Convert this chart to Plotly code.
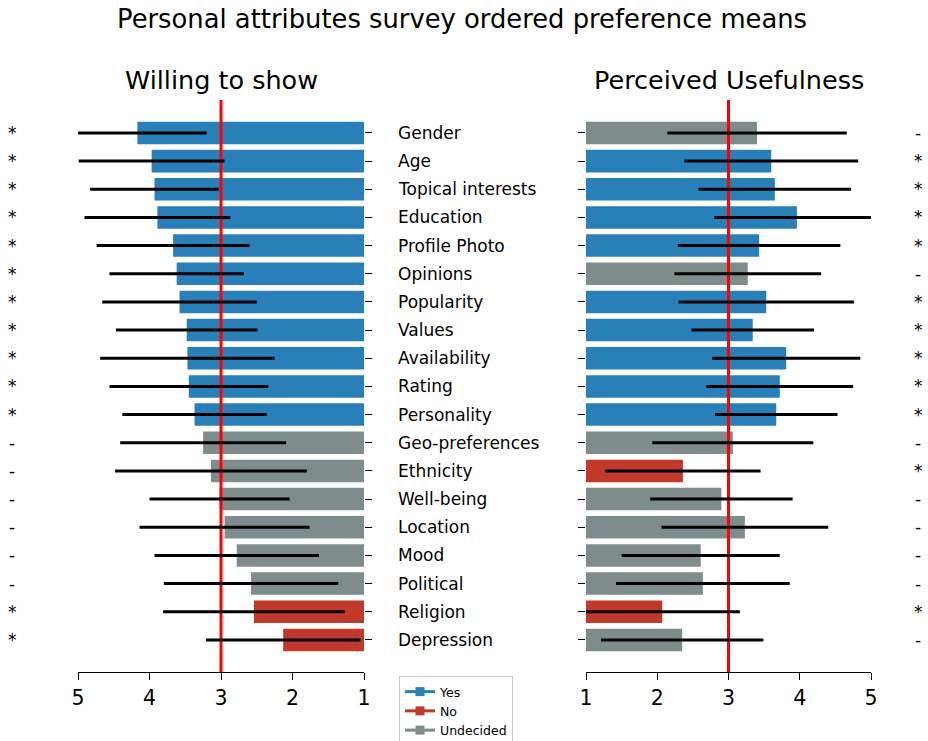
import plotly.graph_objects as go

# Survey items, top to bottom
categories = ["Gender", "Age", "Topical interests", "Education", "Profile Photo",
              "Opinions", "Popularity", "Values", "Availability", "Rating",
              "Personality", "Geo-preferences", "Ethnicity", "Well-being",
              "Location", "Mood", "Political", "Religion", "Depression"]

# Willing to show: mean score, standard deviation, majority response, significance
show_mean = [4.17, 3.97, 3.93, 3.89, 3.67, 3.62, 3.58, 3.48, 3.47, 3.45,
             3.37, 3.25, 3.14, 3.02, 2.95, 2.78, 2.58, 2.54, 2.13]
show_sd = [0.97, 1.02, 0.90, 1.02, 1.07, 0.94, 1.08, 0.99, 1.22, 1.11,
           1.01, 1.16, 1.34, 0.98, 1.19, 1.15, 1.22, 1.27, 1.08]
show_resp = ["Yes"] * 11 + ["Undecided"] * 6 + ["No", "No"]
show_sig = ["*"] * 11 + ["-"] * 6 + ["*", "*"]

# Perceived usefulness
use_mean = [3.40, 3.60, 3.65, 3.96, 3.43, 3.27, 3.53, 3.34, 3.81, 3.72,
            3.67, 3.06, 2.36, 2.90, 3.23, 2.61, 2.64, 2.07, 2.35]
use_sd = [1.26, 1.22, 1.07, 1.16, 1.14, 1.03, 1.23, 0.86, 1.04, 1.03,
          0.86, 1.13, 1.09, 1.00, 1.17, 1.11, 1.22, 1.09, 1.14]
use_resp = ["Undecided", "Yes", "Yes", "Yes", "Yes", "Undecided", "Yes", "Yes",
            "Yes", "Yes", "Yes", "Undecided", "No", "Undecided", "Undecided",
            "Undecided", "Undecided", "No", "Undecided"]
use_sig = ["-", "*", "*", "*", "*", "-", "*", "*", "*", "*", "*", "-", "*",
           "-", "-", "-", "-", "*", "-"]

scale_ticks = [1, 2, 3, 4, 5]
neutral = 3
colors = {"Yes": "#2980b9", "No": "#c0392b", "Undecided": "#7f8c8d"}

FONT = "DejaVu Sans"
W, H = 928, 741
ypos = list(range(len(categories)))
y_range = [len(categories) - 1 + 1.14, -1.17]

fig = go.Figure()


def add_panel(means, sds, resp, xa, ya):
    fig.add_trace(go.Bar(
        y=ypos, x=[m - 1 for m in means], base=1, orientation="h", width=0.8,
        marker=dict(color=[colors[r] for r in resp], line=dict(width=0)),
        xaxis=xa, yaxis=ya, showlegend=False, hoverinfo="skip"))
    fig.add_trace(go.Scatter(
        x=[neutral, neutral], y=y_range, mode="lines",
        line=dict(color="#ff0000", width=3),
        xaxis=xa, yaxis=ya, showlegend=False, hoverinfo="skip"))
    fig.add_trace(go.Scatter(
        x=means, y=ypos, mode="markers",
        marker=dict(size=1, color="rgba(0,0,0,0)"),
        error_x=dict(type="data", array=sds, color="black", thickness=3, width=0),
        xaxis=xa, yaxis=ya, showlegend=False, hoverinfo="skip"))


add_panel(show_mean, show_sd, show_resp, "x", "y")
add_panel(use_mean, use_sd, use_resp, "x2", "y2")

# legend entries
for name in ["Yes", "No", "Undecided"]:
    fig.add_trace(go.Scatter(
        x=[None], y=[None], mode="lines+markers", name=name,
        line=dict(color=colors[name], width=3),
        marker=dict(symbol="square", size=9, color=colors[name]),
        xaxis="x", yaxis="y"))

xcommon = dict(tickvals=scale_ticks, ticks="outside", ticklen=7, tickwidth=1.3,
               tickcolor="black", showline=True, linecolor="black", linewidth=1.3,
               showgrid=False, zeroline=False,
               tickfont=dict(family=FONT, size=20.5, color="black"))
ycommon = dict(range=y_range, tickvals=ypos, ticks="outside", ticklen=7,
               tickwidth=1.3, tickcolor="black", showticklabels=False,
               showline=False, showgrid=False, zeroline=False,
               domain=[1 - 672 / H, 1 - 100 / H])

fig.update_layout(
    width=W, height=H, autosize=False,
    margin=dict(l=0, r=0, t=0, b=0, autoexpand=False),
    paper_bgcolor="white", plot_bgcolor="white",
    font=dict(family=FONT, color="black"),
    xaxis=dict(domain=[78 / W, 364 / W], range=[5, 1], anchor="y", **xcommon),
    xaxis2=dict(domain=[586 / W, 871 / W], range=[1, 5], anchor="y2", **xcommon),
    yaxis=dict(anchor="x", side="right", **ycommon),
    yaxis2=dict(anchor="x2", side="left", **ycommon),
    legend=dict(x=399 / W, y=1 - 676 / H, xanchor="left", yanchor="top",
                bgcolor="white", bordercolor="#cccccc", borderwidth=1,
                font=dict(family=FONT, size=12.5, color="black")),
)

ann = []
ann.append(dict(text="Personal attributes survey ordered preference means",
                x=461.5 / W, y=1 - 19 / H, xref="paper", yref="paper",
                xanchor="center", yanchor="middle",
                showarrow=False, font=dict(size=25.8)))
ann.append(dict(text="Willing to show", x=221 / W, y=1 - 80 / H,
                xref="paper", yref="paper", xanchor="center", yanchor="middle",
                showarrow=False, font=dict(size=25.5)))
ann.append(dict(text="Perceived Usefulness", x=728.5 / W, y=1 - 80 / H,
                xref="paper", yref="paper", xanchor="center", yanchor="middle",
                showarrow=False, font=dict(size=25.5)))
for i, cat in enumerate(categories):
    ann.append(dict(text=cat, x=396 / W, y=i, xref="paper", yref="y",
                    xanchor="left", yanchor="middle", showarrow=False,
                    font=dict(size=17)))
    ann.append(dict(text=show_sig[i], x=12 / W, y=i, xref="paper", yref="y",
                    xanchor="center", yanchor="middle", showarrow=False,
                    font=dict(size=17)))
    ann.append(dict(text=use_sig[i], x=918 / W, y=i, xref="paper", yref="y2",
                    xanchor="center", yanchor="middle", showarrow=False,
                    font=dict(size=17)))
fig.update_layout(annotations=ann)

fig.write_html(
    "out.html",
    post_script="document.body.style.margin='0';",
)
